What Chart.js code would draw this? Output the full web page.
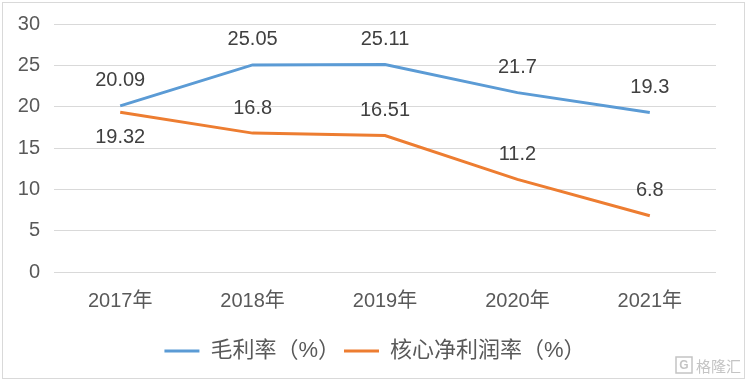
<!DOCTYPE html>
<html>
<head>
<meta charset="utf-8">
<script src="https://cdn.jsdelivr.net/npm/chart.js@4/dist/chart.umd.min.js"></script>
<style>
  body { margin: 0; background: #fff; }
  #wrap { position: relative; width: 750px; height: 384px; }
  #frame { position: absolute; left: 2px; top: 2px; width: 743px; height: 377px; border: 1px solid #d9d9d9; box-sizing: border-box; pointer-events: none; }
</style>
</head>
<body>
<div id="wrap">
  <canvas id="myChart" width="750" height="384"></canvas>
  <div id="frame"></div>
</div>
<script>
const years = ['2017年', '2018年', '2019年', '2020年', '2021年'];
const grossMargin = [20.09, 25.05, 25.11, 21.7, 19.3];
const coreNetMargin = [19.32, 16.8, 16.51, 11.2, 6.8];
// label below the point for these indices of the orange line
const netBelow = [true, false, false, false, false];

const fontFamily = '"Liberation Sans", "Noto Sans CJK SC", sans-serif';

const valueLabels = {
  id: 'valueLabels',
  afterDatasetsDraw(chart) {
    const ctx = chart.ctx;
    ctx.save();
    ctx.font = '20px ' + fontFamily;
    ctx.fillStyle = '#404040';
    ctx.textAlign = 'center';
    ctx.textBaseline = 'middle';
    chart.data.datasets.forEach((ds, i) => {
      chart.getDatasetMeta(i).data.forEach((pt, j) => {
        let dy = -25;
        if (i === 1 && netBelow[j]) dy = 25;
        ctx.fillText(String(ds.data[j]), pt.x, pt.y + dy);
      });
    });
    ctx.restore();
  }
};

const watermark = {
  id: 'watermark',
  afterDraw(chart) {
    const ctx = chart.ctx;
    ctx.save();
    ctx.strokeStyle = '#c4c4c4';
    ctx.lineWidth = 1.5;
    ctx.strokeRect(676, 357, 16, 16);
    ctx.fillStyle = '#c4c4c4';
    ctx.font = 'bold 12px ' + fontFamily;
    ctx.textAlign = 'center';
    ctx.textBaseline = 'middle';
    ctx.fillText('G', 684, 365.5);
    ctx.font = '15px "Noto Sans CJK SC", sans-serif';
    ctx.textAlign = 'left';
    ctx.fillText('格隆汇', 696, 366);
    ctx.restore();
  }
};

const ctx = document.getElementById('myChart').getContext('2d');
new Chart(ctx, {
  type: 'line',
  data: {
    labels: years,
    datasets: [
      {
        label: '毛利率（%）',
        data: grossMargin,
        borderColor: '#5b9bd5',
        backgroundColor: '#5b9bd5',
        borderWidth: 3,
        pointRadius: 0,
        tension: 0
      },
      {
        label: '核心净利润率（%）',
        data: coreNetMargin,
        borderColor: '#ed7d31',
        backgroundColor: '#ed7d31',
        borderWidth: 3,
        pointRadius: 0,
        tension: 0
      }
    ]
  },
  options: {
    responsive: false,
    animation: false,
    layout: { padding: { top: 10, right: 0, bottom: 12, left: 0 } },
    plugins: {
      tooltip: { enabled: false },
      legend: {
        position: 'bottom',
        labels: {
          font: { size: 22, family: fontFamily },
          color: '#595959',
          boxWidth: 35,
          boxHeight: 3,
          padding: 4,
          generateLabels(chart) {
            return Chart.defaults.plugins.legend.labels.generateLabels(chart).map(l => {
              l.lineWidth = 0;
              return l;
            });
          }
        }
      }
    },
    scales: {
      x: {
        offset: true,
        grid: { display: false },
        border: { display: false },
        ticks: { font: { size: 20, family: fontFamily }, color: '#595959', padding: 9 },
        afterFit(scale) {
          scale.height = 64;
          scale.paddingRight = 34;
        }
      },
      y: {
        min: 0,
        max: 30,
        ticks: { stepSize: 5, font: { size: 20, family: fontFamily, lineHeight: 1 }, color: '#595959', padding: 14 },
        grid: { color: '#d9d9d9', drawTicks: false },
        border: { display: false },
        afterFit(scale) { scale.width = 54; }
      }
    }
  },
  plugins: [valueLabels, watermark]
});
</script>
</body>
</html>
